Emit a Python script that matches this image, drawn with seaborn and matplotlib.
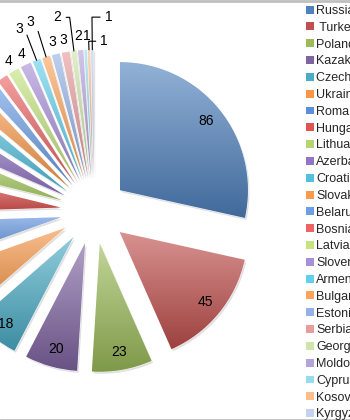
import numpy as np
import matplotlib
matplotlib.use("Agg")
import matplotlib.pyplot as plt
import seaborn as sns
from matplotlib.colors import to_rgb
from matplotlib.patches import Patch, Wedge
from matplotlib.lines import Line2D

sns.set_theme(style="white")
plt.rcParams["font.family"] = ["Liberation Sans", "DejaVu Sans"]

countries = ["Russia", " Turkey", "Poland", "Kazakhstan", "Czech Republic", "Ukraine",
             "Romania", "Hungary", "Lithuania", "Azerbaijan", "Croatia", "Slovakia",
             "Belarus", "Bosnia and Herzegovina", "Latvia", "Slovenia", "Armenia",
             "Bulgaria", "Estonia", "Serbia", "Georgia", "Moldova", "Cyprus", "Kosovo",
             "Kyrgyzstan"]
values = [86, 45, 23, 20, 18, 18, 15, 13, 8, 8, 6, 6, 5, 4, 4, 4, 3, 3, 3, 3, 2, 2, 1, 1, 1]
colors = ["#4F81BD", "#C0504D", "#9BBB59", "#8064A2", "#4BACC6", "#F79646",
          "#5B8FDD", "#DE5553", "#B3D66E", "#9275C4", "#52C0DE", "#FA9A4C",
          "#6C9FE6", "#EC6464", "#C3E47E", "#A88FD8", "#62D0EC", "#FCA45C",
          "#94B2E6", "#E89C9C", "#CFE6A8", "#B5A3DC", "#95DCEE", "#FCBC8E",
          "#C3D2F0"]

# label style for the labels placed outside: (distance factor from exploded centre,
# angle shift in deg, leader line)
outside_style = {
    "Latvia": (1.09, 0, False), "Slovenia": (1.09, -0.5, False),
    "Armenia": (1.28, 1.7, True), "Bulgaria": (1.30, 1.5, True),
    "Estonia": (1.10, 0, False), "Serbia": (1.10, 0, False),
    "Georgia": (1.28, 4.2, True), "Moldova": (1.11, 0.7, False),
    "Cyprus": (1.11, -0.6, False), "Kosovo": (1.07, -6.5, True),
    "Kyrgyzstan": (1.26, -5.9, True),
}
default_outside = (1.11, 0, False)

W, H = 350, 420
fig = plt.figure(figsize=(W / 100, H / 100), dpi=100)
ax = fig.add_axes([0, 0, 1, 1])

R = 128
explode = [0.26 * R] * len(values)
wedges, _ = ax.pie(values, colors=colors, startangle=90, counterclock=False,
                   center=(94, 209), radius=R, explode=explode,
                   wedgeprops=dict(edgecolor="white", linewidth=0.6))

for w, c in zip(wedges, colors):
    base = np.array(to_rgb(c))
    sh = Wedge((w.center[0] + 1.5, w.center[1] - 2.0), w.r, w.theta1, w.theta2,
               facecolor=(0, 0, 0, 0.12), edgecolor="none", zorder=0.5)
    ax.add_patch(sh)
    verts = w.get_path().vertices
    x0, x1 = verts[:, 0].min(), verts[:, 0].max()
    y0, y1 = verts[:, 1].min(), verts[:, 1].max()
    t = np.linspace(0, 1, 64)[:, None]
    top = base + (1 - base) * 0.38
    bot = base * 0.82
    grad = (bot * (1 - t) + top * t)[:, None, :]
    im = ax.imshow(grad, extent=[x0, x1, y0, y1], origin="lower",
                   interpolation="bilinear", zorder=w.get_zorder() + 0.1, aspect="auto")
    im.set_clip_path(w)

for w, name, v in zip(wedges, countries, values):
    mid = np.deg2rad((w.theta1 + w.theta2) / 2)
    cx, cy = w.center
    if v < 13:
        d, dth, leader = outside_style.get(name.strip(), default_outside)
        ang = mid + np.deg2rad(dth)
        lx, ly = cx + d * R * np.cos(ang), cy + d * R * np.sin(ang)
        if leader:
            ex, ey = cx + R * np.cos(mid), cy + R * np.sin(mid)
            ax.annotate(str(v), xy=(ex, ey), xytext=(lx, ly), ha="center", va="center",
                        fontsize=10, color="black", zorder=5,
                        arrowprops=dict(arrowstyle="-", color="black", lw=0.8,
                                        shrinkA=1, shrinkB=0,
                                        connectionstyle=f"angle,angleA=0,angleB={np.rad2deg(mid):.1f},rad=0"))
        else:
            ax.text(lx, ly, str(v), ha="center", va="center", fontsize=10,
                    color="black", zorder=5)
    else:
        tx, ty = cx + 0.86 * R * np.cos(mid), cy + 0.86 * R * np.sin(mid)
        ax.text(tx, ty, str(v), ha="center", va="center", fontsize=10,
                color="black", zorder=5)

ax.set_xlim(0, W)
ax.set_ylim(0, H)
ax.set_aspect("equal")
ax.axis("off")

handles = [Patch(facecolor=c, edgecolor="none") for c in colors]
fig.legend(handles, countries, loc="upper left", bbox_to_anchor=(306 / W, 1 - 5 / H),
           frameon=False, fontsize=9, handlelength=0.6, handleheight=0.6,
           handletextpad=0.2, labelspacing=0.385, borderaxespad=0, borderpad=0)

for yy in (0.5 / H, 1 - 1 / H):
    fig.add_artist(Line2D([0, 1], [yy, yy], transform=fig.transFigure,
                          color="#BFBFBF", lw=2))

fig.savefig("out.png", dpi=100)
